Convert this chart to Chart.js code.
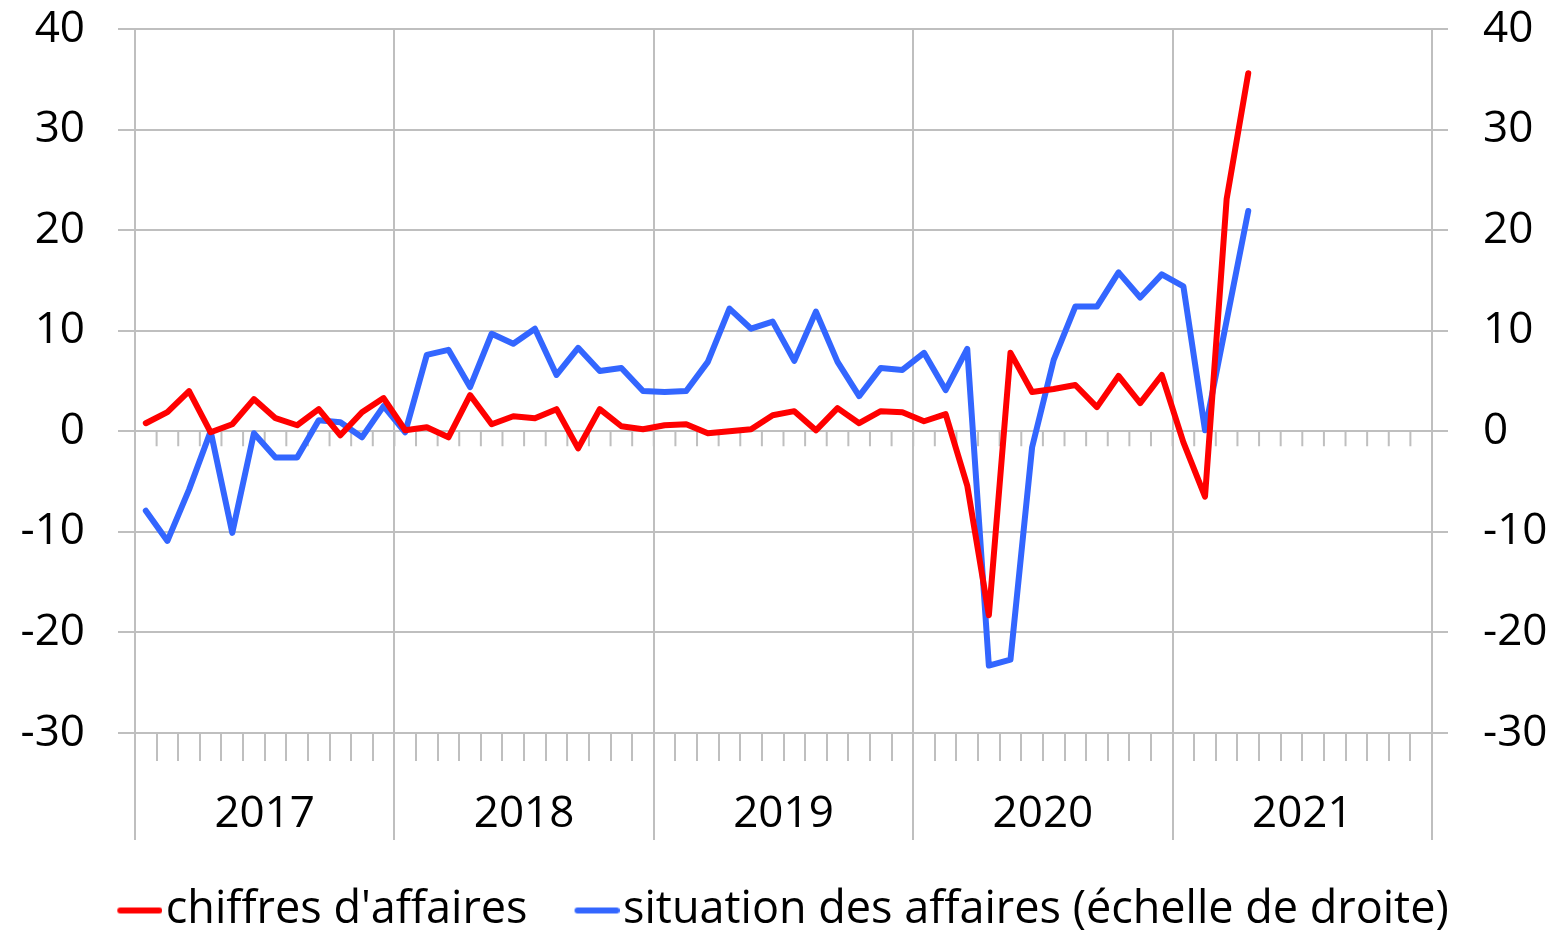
<!DOCTYPE html>
<html>
<head>
<meta charset="utf-8">
<script src="https://cdn.jsdelivr.net/npm/chart.js@4.4.1/dist/chart.umd.min.js"></script>
<style>
  html, body { margin: 0; padding: 0; background: #fff; }
  #wrap { width: 1558px; height: 931px; }
</style>
</head>
<body>
<div id="wrap"><canvas id="chart"></canvas></div>
<script>
// years shown under the axis, one category per month
const years = ['2017', '2018', '2019', '2020', '2021'];
const monthNums = ['01', '02', '03', '04', '05', '06', '07', '08', '09', '10', '11', '12'];
const months = years.flatMap(y => monthNums.map(m => y + '-' + m));

const yTicks = [-30, -20, -10, 0, 10, 20, 30, 40];

// chiffres d'affaires (left axis), Jan 2017 -> Apr 2021
const chiffres = [
  0.8, 1.9, 4.0, -0.1, 0.7, 3.2, 1.3, 0.6, 2.2, -0.4, 1.9, 3.3,
  0.1, 0.4, -0.6, 3.6, 0.7, 1.5, 1.3, 2.2, -1.7, 2.2, 0.5, 0.2,
  0.6, 0.7, -0.2, 0.0, 0.2, 1.6, 2.0, 0.1, 2.3, 0.8, 2.0, 1.9,
  1.0, 1.7, -5.4, -18.3, 7.8, 3.9, 4.2, 4.6, 2.4, 5.5, 2.8, 5.6,
  -1.1, -6.5, 23.1, 35.6
];

// situation des affaires (right axis)
const situation = [
  -7.9, -10.9, -5.8, 0.0, -10.1, -0.2, -2.6, -2.6, 1.1, 0.9, -0.6, 2.5,
  -0.1, 7.6, 8.1, 4.4, 9.7, 8.7, 10.2, 5.6, 8.3, 6.0, 6.3, 4.0,
  3.9, 4.0, 6.9, 12.2, 10.2, 10.9, 7.0, 11.9, 6.9, 3.5, 6.3, 6.1,
  7.8, 4.1, 8.2, -23.3, -22.7, -1.6, 7.1, 12.4, 12.4, 15.8, 13.3, 15.6,
  14.4, 0.1, 11.0, 21.9
];

const GRID = '#bfbfbf';
const FONT = "'Open Sans', 'Noto Sans', sans-serif";

// legend swatch: a short thick line sitting close to the text
function swatch(color) {
  const c = document.createElement('canvas');
  c.width = 58;
  c.height = 10;
  const g = c.getContext('2d');
  g.strokeStyle = color;
  g.lineWidth = 6;
  g.lineCap = 'round';
  g.beginPath();
  g.moveTo(16, 5);
  g.lineTo(55, 5);
  g.stroke();
  return c;
}

// little month ticks hanging under the zero line
const zeroTicks = {
  id: 'zeroTicks',
  afterLayout(chart) {
    // legend sits a touch right of centre in the original
    chart.legend.left += 14;
  },
  beforeDatasetsDraw(chart) {
    const x = chart.scales.x, y = chart.scales.y;
    const y0 = y.getPixelForValue(0);
    const ctx = chart.ctx;
    ctx.save();
    ctx.strokeStyle = GRID;
    ctx.lineWidth = 2;
    ctx.beginPath();
    for (let i = 1; i < months.length; i++) {
      const px = (x.getPixelForValue(i - 1) + x.getPixelForValue(i)) / 2;
      ctx.moveTo(px, y0);
      ctx.lineTo(px, y0 + 15);
    }
    ctx.stroke();
    ctx.restore();
  }
};

Chart.defaults.font.family = FONT;
Chart.defaults.color = '#000';

function yFit(width) {
  return s => { s.width = width; s.paddingTop = 0; s.paddingBottom = 0; };
}

new Chart(document.getElementById('chart'), {
  type: 'line',
  data: {
    labels: months,
    datasets: [
      {
        label: "chiffres d'affaires",
        data: chiffres,
        yAxisID: 'y',
        borderColor: '#ff0000',
        backgroundColor: '#ff0000',
        borderWidth: 6,
        borderCapStyle: 'round',
        borderJoinStyle: 'round',
        pointRadius: 0,
        pointStyle: swatch('#ff0000'),
        tension: 0
      },
      {
        label: "situation des affaires (échelle de droite)",
        data: situation,
        yAxisID: 'y2',
        borderColor: '#3366ff',
        backgroundColor: '#3366ff',
        borderWidth: 6,
        borderCapStyle: 'round',
        borderJoinStyle: 'round',
        pointRadius: 0,
        pointStyle: swatch('#3366ff'),
        tension: 0
      }
    ]
  },
  options: {
    responsive: true,
    maintainAspectRatio: false,
    animation: false,
    layout: { padding: { top: 29, left: 0, right: 0, bottom: -12 } },
    plugins: {
      legend: {
        position: 'bottom',
        labels: {
          usePointStyle: true,
          pointStyleWidth: 20,
          padding: 53,
          font: { size: 45 },
          color: '#000'
        }
      },
      tooltip: { enabled: false }
    },
    scales: {
      x: {
        type: 'category',
        offset: true,
        position: 'bottom',
        weight: 0,
        border: { display: false },
        grid: {
          offset: true,
          drawOnChartArea: false,
          color: GRID,
          lineWidth: 2,
          tickLength: 28
        },
        ticks: { display: false },
        afterFit(s) { s.height = 27; }
      },
      xYear: {
        type: 'category',
        labels: years,
        offset: true,
        position: 'bottom',
        weight: 1,
        border: { display: false },
        grid: {
          offset: true,
          color: GRID,
          lineWidth: 2,
          tickLength: 80
        },
        ticks: {
          font: { size: 44 },
          color: '#000',
          padding: -52,
          maxRotation: 0,
          autoSkip: false
        },
        afterFit(s) { s.height = 75; }
      },
      y: {
        position: 'left',
        min: -30,
        max: 40,
        border: { display: false },
        grid: { color: GRID, lineWidth: 2, tickLength: 17 },
        ticks: {
          stepSize: 10,
          font: { size: 44 },
          color: '#000',
          padding: 33
        },
        afterBuildTicks(s) { s.ticks = yTicks.map(v => ({ value: v })); },
        afterFit: yFit(135)
      },
      y2: {
        position: 'right',
        min: -30,
        max: 40,
        border: { display: false },
        grid: { drawOnChartArea: false, color: GRID, lineWidth: 2, tickLength: 16 },
        ticks: {
          stepSize: 10,
          font: { size: 44 },
          color: '#000',
          padding: 35
        },
        afterBuildTicks(s) { s.ticks = yTicks.map(v => ({ value: v })); },
        afterFit: yFit(126)
      }
    }
  },
  plugins: [zeroTicks]
});
</script>
</body>
</html>
